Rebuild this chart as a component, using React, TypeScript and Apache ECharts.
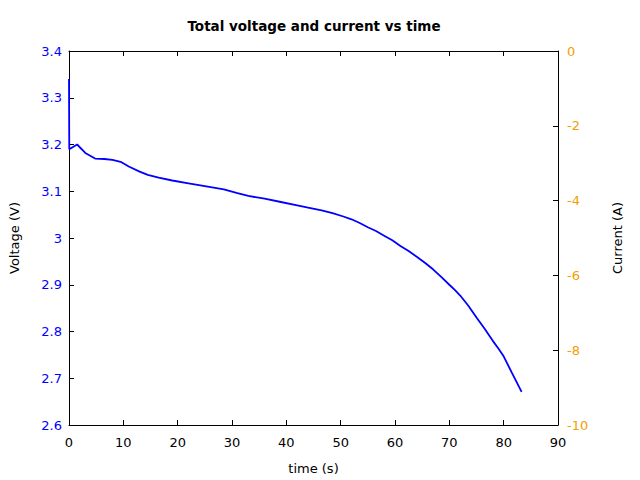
import React, { useEffect, useRef } from "react";
import * as echarts from "echarts";

const timeS = [0, 0.05, 1.5, 3, 4.8, 6.5, 8, 9.5, 11, 13, 14.5, 16.5, 19, 22, 25, 28.5, 31, 33, 36, 39, 42, 44, 46.5, 48.5, 50.5, 52, 53.5, 55, 56.5, 58, 59.5, 61, 62.5, 64, 65.5, 67, 68.5, 70, 71, 72, 73.5, 75, 76.5, 78, 79, 80, 81.5, 83.3];
const voltageV = [3.34, 3.19, 3.2, 3.182, 3.17, 3.169, 3.167, 3.163, 3.153, 3.142, 3.135, 3.129, 3.123, 3.117, 3.111, 3.104, 3.096, 3.09, 3.084, 3.077, 3.07, 3.065, 3.059, 3.053, 3.046, 3.04, 3.032, 3.023, 3.015, 3.005, 2.995, 2.983, 2.972, 2.96, 2.947, 2.933, 2.917, 2.9, 2.889, 2.877, 2.855, 2.83, 2.806, 2.78, 2.764, 2.747, 2.712, 2.671];
const currentTime = [0];
const currentA = [-10];

const FONT = "DejaVu Sans";

export default function App() {
  const ref = useRef<HTMLDivElement>(null);
  useEffect(() => {
    if (!ref.current) return;
    const chart = echarts.init(ref.current, undefined, { renderer: "svg" });
    const axisLine = { show: true, onZero: false, lineStyle: { color: "#000", width: 1 } };
    const tick = { show: true, inside: true, length: 5, lineStyle: { color: "#000" } };
    const nameStyle = { fontFamily: FONT, fontSize: 13, color: "#000" };
    chart.setOption({
      animation: false,
      title: {
        text: "Total voltage and current vs time",
        left: 309,
        textAlign: "center",
        top: 14,
        textStyle: { fontFamily: FONT, fontSize: 13.5, fontWeight: "bold", color: "#000" },
      },
      grid: { left: 69, right: 82, top: 51, bottom: 54, containLabel: false },
      xAxis: [
        {
          type: "value",
          min: 0,
          max: 90,
          interval: 10,
          position: "bottom",
          z: 3,
          name: "time (s)",
          nameLocation: "middle",
          nameGap: 37,
          nameTextStyle: nameStyle,
          axisLine,
          axisTick: tick,
          axisLabel: { margin: 11, fontFamily: FONT, fontSize: 13, color: "#000" },
          splitLine: { show: false },
        },
        {
          type: "value",
          min: 0,
          max: 90,
          interval: 10,
          position: "top",
          z: 3,
          axisLine,
          axisTick: tick,
          axisLabel: { show: false },
          splitLine: { show: false },
        },
      ],
      yAxis: [
        {
          type: "value",
          min: 2.6,
          max: 3.4,
          interval: 0.1,
          position: "left",
          z: 3,
          name: "Voltage (V)",
          nameLocation: "middle",
          nameGap: 48,
          nameRotate: 90,
          nameTextStyle: nameStyle,
          axisLine,
          axisTick: tick,
          axisLabel: {
            margin: 7,
            fontFamily: FONT,
            fontSize: 13,
            color: "#0000ff",
            formatter: (v: number) => String(+v.toFixed(2)),
          },
          splitLine: { show: false },
        },
        {
          type: "value",
          min: -10,
          max: 0,
          interval: 2,
          position: "right",
          z: 3,
          name: "Current (A)",
          nameLocation: "middle",
          nameGap: 53,
          nameRotate: 90,
          nameTextStyle: nameStyle,
          axisLine,
          axisTick: tick,
          axisLabel: { margin: 9, fontFamily: FONT, fontSize: 13, color: "#f0a000" },
          splitLine: { show: false },
        },
      ],
      series: [
        {
          type: "line",
          name: "Current",
          xAxisIndex: 0,
          yAxisIndex: 1,
          z: 1,
          showSymbol: false,
          symbol: "none",
          lineStyle: { color: "#ffa500", width: 1 },
          data: currentTime.map((t, i) => [t, currentA[i]]),
        },
        {
          type: "line",
          name: "Voltage",
          xAxisIndex: 0,
          yAxisIndex: 0,
          z: 5,
          showSymbol: false,
          symbol: "none",
          lineStyle: { color: "#0000ff", width: 1.8 },
          data: timeS.map((t, i) => [t, voltageV[i]]),
        },
      ],
    });
    return () => chart.dispose();
  }, []);
  return <div ref={ref} style={{ width: 640, height: 480, position: "absolute", left: 0, top: 0 }} />;
}
